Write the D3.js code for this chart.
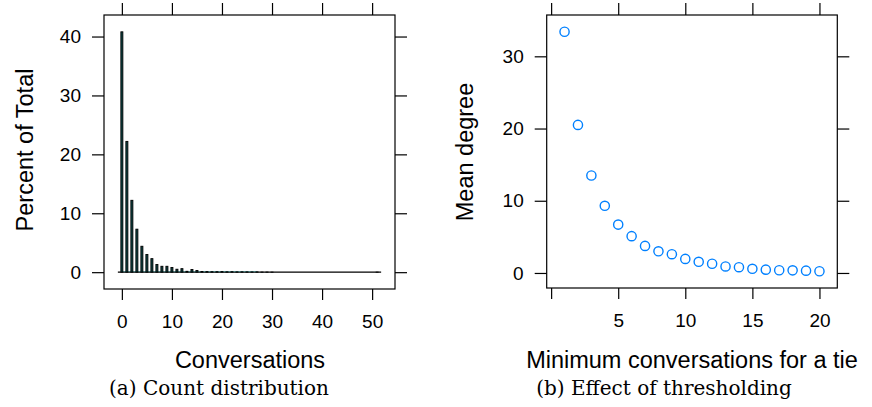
<!DOCTYPE html>
<html>
    <head>
        <script src="https://d3js.org/d3.v7.min.js"></script>
        <style>
            body { margin: 0; background: #fff; }
            svg { display: block; }
            .tick text { font: 19px "Liberation Sans", Arial, sans-serif; fill: #000; }
            .tick line { stroke: #000; stroke-width: 1.2; }
            .axis-title { font: 23.5px "Liberation Sans", Arial, sans-serif; fill: #000; text-anchor: middle; }
            .caption { font: 20px "DejaVu Serif", serif; fill: #000; text-anchor: middle; }
        </style>
    </head>
    <body>
        <svg width="872" height="407"></svg>
        <script>
            // (a) count distribution: percent of total for 0..51 conversations
            var convLevels = d3.range(0, 52);
            var convPercent = [40.8, 22.2, 12.2, 7.3, 4.4, 3.0, 2.3, 1.3, 1.0, 1.0,
                               0.8, 0.5, 0.6, 0.15, 0.45, 0.28, 0.12, 0.1, 0.08, 0.08,
                               0.1, 0.06, 0.08, 0.05, 0.06, 0.05, 0.04, 0.05, 0.02, 0.02,
                               0.01, 0, 0, 0, 0, 0, 0, 0, 0, 0,
                               0, 0, 0, 0, 0, 0, 0, 0, 0, 0,
                               0, 0.01];
            var convXTicks = [0, 10, 20, 30, 40, 50];
            var convYTicks = [0, 10, 20, 30, 40];

            // (b) mean degree by minimum conversations for a tie
            var minConv = d3.range(1, 21);
            var meanDegree = [33.4, 20.5, 13.5, 9.3, 6.7, 5.1, 3.75, 3.0, 2.6, 1.95,
                              1.55, 1.28, 0.9, 0.8, 0.58, 0.46, 0.38, 0.36, 0.32, 0.24];
            var degXTicks = [0, 5, 10, 15, 20];
            var degYTicks = [0, 10, 20, 30];

            var svg = d3.select("svg");

            // lattice style 7% padding on each side of the data range
            function padded(lo, hi) {
                var p = (hi - lo) * 0.07;
                return [lo - p, hi + p];
            }

            function panel(left, right, top, bottom, xDom, yDom, xTicks, yTicks, xFmt) {
                var x = d3.scaleLinear().domain(xDom).range([left, right]);
                var y = d3.scaleLinear().domain(yDom).range([bottom, top]);

                svg.append("g").attr("transform", "translate(0," + bottom + ")")
                    .call(d3.axisBottom(x).tickValues(xTicks).tickSize(11).tickPadding(15).tickFormat(xFmt))
                    .call(function(g) { g.select(".domain").remove(); });
                svg.append("g").attr("transform", "translate(0," + top + ")")
                    .call(d3.axisTop(x).tickValues(xTicks).tickSize(12).tickFormat(""))
                    .call(function(g) { g.select(".domain").remove(); });
                svg.append("g").attr("transform", "translate(" + left + ",0)")
                    .call(d3.axisLeft(y).tickValues(yTicks).tickSize(12).tickPadding(11))
                    .call(function(g) { g.select(".domain").remove(); });
                svg.append("g").attr("transform", "translate(" + right + ",0)")
                    .call(d3.axisRight(y).tickValues(yTicks).tickSize(12).tickFormat(""))
                    .call(function(g) { g.select(".domain").remove(); });

                svg.selectAll(".tick text").attr("font-family", null).attr("font-size", null);

                svg.append("rect")
                    .attr("x", left).attr("y", top)
                    .attr("width", right - left).attr("height", bottom - top)
                    .attr("fill", "none").attr("stroke", "#000").attr("stroke-width", 1.2);

                return {x: x, y: y};
            }

            // left panel
            var a = panel(104, 395, 15, 289,
                          padded(0, 51), padded(0, d3.max(convPercent)),
                          convXTicks, convYTicks, d3.format("d"));

            svg.append("line")
                .attr("x1", a.x(-0.8)).attr("x2", a.x(51.8))
                .attr("y1", a.y(0)).attr("y2", a.y(0))
                .attr("stroke", "#000").attr("stroke-width", 1.3);
            svg.append("line")
                .attr("x1", a.x(0)).attr("x2", a.x(27))
                .attr("y1", a.y(0) - 0.6).attr("y2", a.y(0) - 0.6)
                .attr("stroke", "#2a8c8c").attr("stroke-width", 0.6);

            svg.append("g").selectAll("rect")
                .data(convLevels.filter(function(d, i) { return convPercent[i] > 0; }))
                .enter().append("rect")
                .attr("x", function(d) { return a.x(d) - 1; })
                .attr("width", 2)
                .attr("y", function(d) { return a.y(convPercent[d]); })
                .attr("height", function(d) { return a.y(0) - a.y(convPercent[d]); })
                .attr("fill", "#0b4444")
                .attr("stroke", "#000")
                .attr("stroke-width", 0.9);

            // right panel
            var b = panel(546.7, 837.3, 15, 288,
                          padded(1, 20), padded(d3.min(meanDegree), d3.max(meanDegree)),
                          degXTicks, degYTicks, function(d) { return d === 0 ? "" : d; });

            svg.append("g").selectAll("circle")
                .data(minConv)
                .enter().append("circle")
                .attr("cx", function(d) { return b.x(d); })
                .attr("cy", function(d, i) { return b.y(meanDegree[i]); })
                .attr("r", 4.6)
                .attr("fill", "none")
                .attr("stroke", "#0080ff")
                .attr("stroke-width", 1.4);

            // titles
            svg.append("text").attr("class", "axis-title")
                .attr("transform", "translate(33,150) rotate(-90)")
                .text("Percent of Total");
            svg.append("text").attr("class", "axis-title")
                .attr("transform", "translate(473,152) rotate(-90)")
                .text("Mean degree");
            svg.append("text").attr("class", "axis-title")
                .attr("x", 250).attr("y", 368)
                .text("Conversations");
            svg.append("text").attr("class", "axis-title")
                .attr("x", 692).attr("y", 368)
                .text("Minimum conversations for a tie");

            svg.append("text").attr("class", "caption")
                .attr("x", 219).attr("y", 395)
                .text("(a) Count distribution");
            svg.append("text").attr("class", "caption")
                .attr("x", 664).attr("y", 395)
                .text("(b) Effect of thresholding");
        </script>
    </body>
</html>
